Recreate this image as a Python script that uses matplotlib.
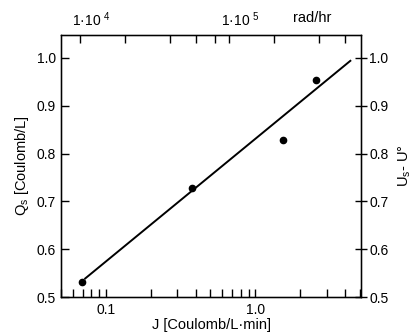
import matplotlib
matplotlib.use("Agg")
import matplotlib.pyplot as plt
import matplotlib.transforms as mtransforms
from matplotlib.ticker import FixedLocator, NullFormatter, FixedFormatter, LogLocator

plt.rcParams['font.family'] = ['Liberation Sans', 'DejaVu Sans']
plt.rcParams['mathtext.fontset'] = 'custom'
plt.rcParams['mathtext.rm'] = 'Liberation Sans'
plt.rcParams['mathtext.it'] = 'Liberation Sans'

# data
J_points = [0.0697, 0.376, 1.52, 2.56]
Q_points = [0.532, 0.729, 0.828, 0.953]
J_line = [0.0727, 4.32]
Q_line = [0.539, 0.994]
dose_per_J = 1.5e5  # rad/hr per Coulomb/L·min
yticks = [0.5, 0.6, 0.7, 0.8, 0.9, 1.0]
ytick_labels = ["0.5", "0.6", "0.7", "0.8", "0.9", "1.0"]
xticks = [0.1, 1.0]
xtick_labels = ["0.1", "1.0"]
top_major = [1e4, 1e5]
top_major_labels = ["1·10 $^{4}$", "1·10 $^{5}$"]
top_minor = [2e4, 4e4, 6e4, 8e4, 2e5, 4e5, 6e5]

xlim = (0.05, 5.1)

fig = plt.figure(figsize=(4.17, 3.35), dpi=100)
ax = fig.add_axes([0.146, 0.113, 0.72, 0.784])
ax.set_xscale('log')
ax.set_xlim(*xlim)
ax.set_ylim(0.5, 1.049)

ax.plot(J_line, Q_line, color='black', lw=1.4)
ax.plot(J_points, Q_points, 'o', color='black', ms=4.5)

ax.set_yticks(yticks)
ax.set_yticklabels(ytick_labels)
ax.xaxis.set_major_locator(FixedLocator(xticks))
ax.xaxis.set_major_formatter(FixedFormatter(xtick_labels))
ax.xaxis.set_minor_locator(LogLocator(base=10, subs=[2, 3, 4, 5, 6, 7, 8, 9]))
ax.xaxis.set_minor_formatter(NullFormatter())
ax.tick_params(which='both', direction='in', length=6, width=1.0, labelsize=10, top=False, right=False)
ax.tick_params(axis='x', which='both', pad=4)
for s in ax.spines.values():
    s.set_linewidth(1.0)

ax.set_xlabel("J [Coulomb/L·min]", fontsize=10.5, labelpad=1)
ax.set_ylabel("Q$_\\mathrm{s}$ [Coulomb/L]", fontsize=10.5, labelpad=4)

# right axis
axr = ax.twinx()
axr.set_ylim(ax.get_ylim())
axr.set_yticks(yticks)
axr.set_yticklabels(ytick_labels)
axr.tick_params(direction='inout', length=8, width=1.0, labelsize=10, pad=2)
axr.set_ylabel("U$_\\mathrm{s}$- U°", fontsize=10.5, labelpad=6)

# top axis (dose rate)
axt = ax.twiny()
axt.set_xscale('log')
axt.set_xlim(xlim[0] * dose_per_J, xlim[1] * dose_per_J)
axt.xaxis.set_major_locator(FixedLocator(top_major))
axt.xaxis.set_major_formatter(FixedFormatter(top_major_labels))
axt.xaxis.set_minor_locator(FixedLocator(top_minor))
axt.xaxis.set_minor_formatter(NullFormatter())
axt.tick_params(which='both', direction='in', length=6, width=1.0, labelsize=10, pad=4)
offset = mtransforms.ScaledTranslation(-8 / 100, 0, fig.dpi_scale_trans)
for lbl in axt.get_xticklabels():
    lbl.set_horizontalalignment('left')
    lbl.set_transform(lbl.get_transform() + offset)
fig.text(0.748, 0.945, "rad/hr", fontsize=10.5, ha='center', va='center')

fig.savefig("out.png", dpi=100)
